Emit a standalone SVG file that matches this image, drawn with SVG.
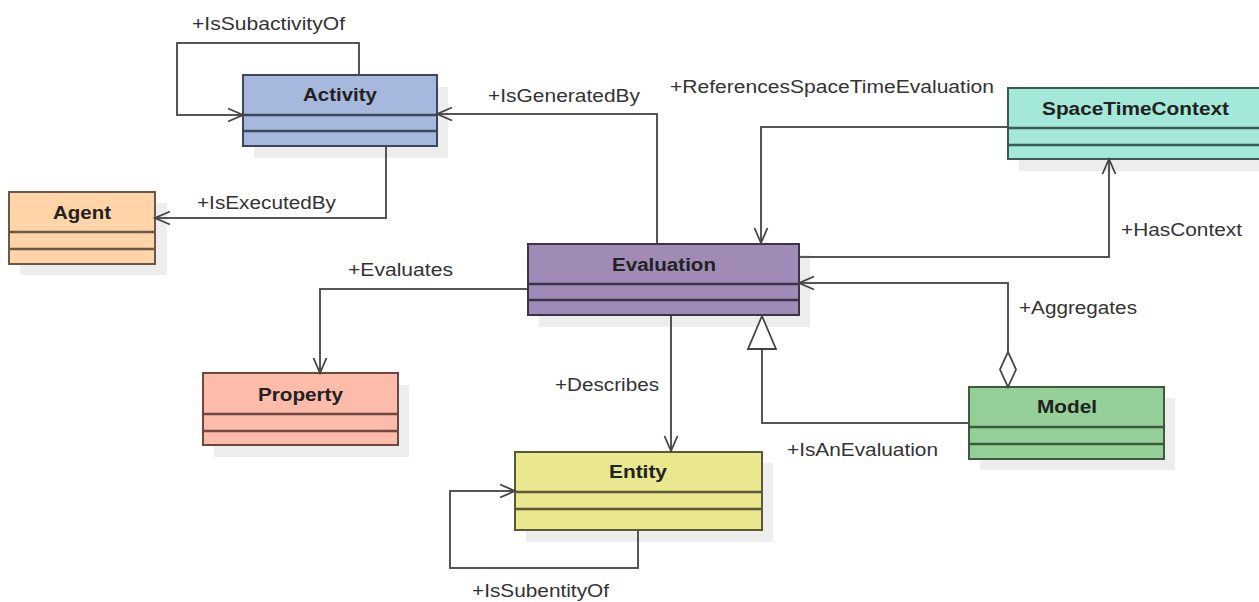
<svg xmlns="http://www.w3.org/2000/svg" width="1259" height="602" viewBox="0 0 1259 602">
<style>
.shadow{fill:#ededed}
.box{stroke-width:2}
.div{stroke-width:2.5;fill:none}
.title{font-family:"Liberation Sans",Arial,sans-serif;font-weight:bold;font-size:18px;text-anchor:middle;fill:#222}
.lbl{font-family:"Liberation Sans",Arial,sans-serif;font-size:17.5px;fill:#333}
.conn{fill:none;stroke:#555;stroke-width:2}
.arr{fill:none;stroke:#444;stroke-width:1.8}
.head{fill:#fff;stroke:#444;stroke-width:1.8}
</style>
<rect width="1259" height="602" fill="#fff"/>

<g id="activity">
<rect class="shadow" x="254" y="87" width="194" height="71"/>
<rect class="box" x="243" y="75" width="194" height="71" fill="#a7b8de" stroke="#3c475e"/>
<path class="div" d="M243,115 H437 M243,131 H437" stroke="#3c475e"/>
<text class="title" x="340" y="101" textLength="74" lengthAdjust="spacingAndGlyphs">Activity</text>
</g>

<g id="agent">
<rect class="shadow" x="20" y="203" width="147" height="72"/>
<rect class="box" x="9" y="192" width="146" height="72" fill="#fed4a8" stroke="#6b5846"/>
<path class="div" d="M9,232 H155 M9,249 H155" stroke="#6b5846"/>
<text class="title" x="82" y="219" textLength="58" lengthAdjust="spacingAndGlyphs">Agent</text>
</g>

<g id="property">
<rect class="shadow" x="214" y="385" width="195" height="72"/>
<rect class="box" x="203" y="373" width="195" height="72" fill="#fdbbaa" stroke="#6b4842"/>
<path class="div" d="M203,414 H398 M203,431 H398" stroke="#6b4842"/>
<text class="title" x="300.5" y="401" textLength="85" lengthAdjust="spacingAndGlyphs">Property</text>
</g>

<g id="evaluation">
<rect class="shadow" x="539" y="255" width="271" height="72"/>
<rect class="box" x="528" y="244" width="271" height="71" fill="#9f8bb6" stroke="#3d3348"/>
<path class="div" d="M528,284 H799 M528,300 H799" stroke="#3d3348"/>
<text class="title" x="664" y="271" textLength="104" lengthAdjust="spacingAndGlyphs">Evaluation</text>
</g>

<g id="spacetimecontext">
<rect class="shadow" x="1019" y="100" width="250" height="71"/>
<rect class="box" x="1008" y="88" width="256" height="71" fill="#a3e8d9" stroke="#3b5a54"/>
<path class="div" d="M1008,128 H1264 M1008,145 H1264" stroke="#3b5a54"/>
<text class="title" x="1135.5" y="115" textLength="187" lengthAdjust="spacingAndGlyphs">SpaceTimeContext</text>
</g>

<g id="model">
<rect class="shadow" x="980" y="398" width="195" height="72"/>
<rect class="box" x="969" y="387" width="195" height="72" fill="#94d097" stroke="#3d5a3e"/>
<path class="div" d="M969,427 H1164 M969,444 H1164" stroke="#3d5a3e"/>
<text class="title" x="1067" y="413" textLength="60" lengthAdjust="spacingAndGlyphs">Model</text>
</g>

<g id="entity">
<rect class="shadow" x="526" y="463" width="247" height="79"/>
<rect class="box" x="515" y="452" width="247" height="78" fill="#e9e88f" stroke="#5a5a38"/>
<path class="div" d="M515,492 H762 M515,509 H762" stroke="#5a5a38"/>
<text class="title" x="638" y="478" textLength="58" lengthAdjust="spacingAndGlyphs">Entity</text>
</g>

<g id="connectors">
<path class="conn" d="M359,74 V43 H177 V115 H242"/>
<path class="arr" d="M228,108.5 L243,115 L228,121.5"/>
<path class="conn" d="M657,243 V114 H438"/>
<path class="arr" d="M452,107.5 L437,114 L452,120.5"/>
<path class="conn" d="M386,147 V218 H156"/>
<path class="arr" d="M170,211.5 L155,218 L170,224.5"/>
<path class="conn" d="M527,289 H320 V372"/>
<path class="arr" d="M313.5,358 L320,373 L326.5,358"/>
<path class="conn" d="M1007,127 H761 V242"/>
<path class="arr" d="M754.5,228 L761,243 L767.5,228"/>
<path class="conn" d="M800,257 H1109 V160"/>
<path class="arr" d="M1102.5,174 L1109,159 L1115.5,174"/>
<path class="conn" d="M1008,352 V283 H800"/>
<path class="arr" d="M814,276.5 L799,283 L814,289.5"/>
<path class="head" d="M1008,387 L1016,369.5 L1008,352 L1000,369.5 Z"/>
<path class="conn" d="M671,316 V450"/>
<path class="arr" d="M664.5,436 L671,451 L677.5,436"/>
<path class="conn" d="M968,423 H762 V349"/>
<path class="head" d="M762,316 L776,349 L748,349 Z"/>
<path class="conn" d="M638,531 V568 H450 V491 H514"/>
<path class="arr" d="M500,484.5 L515,491 L500,497.5"/>
<text class="lbl" x="192" y="30" textLength="153" lengthAdjust="spacingAndGlyphs">+IsSubactivityOf</text>
<text class="lbl" x="488" y="102" textLength="152" lengthAdjust="spacingAndGlyphs">+IsGeneratedBy</text>
<text class="lbl" x="197" y="209" textLength="139" lengthAdjust="spacingAndGlyphs">+IsExecutedBy</text>
<text class="lbl" x="348" y="276" textLength="105" lengthAdjust="spacingAndGlyphs">+Evaluates</text>
<text class="lbl" x="670" y="93" textLength="324" lengthAdjust="spacingAndGlyphs">+ReferencesSpaceTimeEvaluation</text>
<text class="lbl" x="1121" y="236" textLength="121" lengthAdjust="spacingAndGlyphs">+HasContext</text>
<text class="lbl" x="1019" y="314" textLength="118" lengthAdjust="spacingAndGlyphs">+Aggregates</text>
<text class="lbl" x="555" y="391" textLength="104" lengthAdjust="spacingAndGlyphs">+Describes</text>
<text class="lbl" x="787" y="456" textLength="151" lengthAdjust="spacingAndGlyphs">+IsAnEvaluation</text>
<text class="lbl" x="472" y="597" textLength="137" lengthAdjust="spacingAndGlyphs">+IsSubentityOf</text>
</g>
</svg>
